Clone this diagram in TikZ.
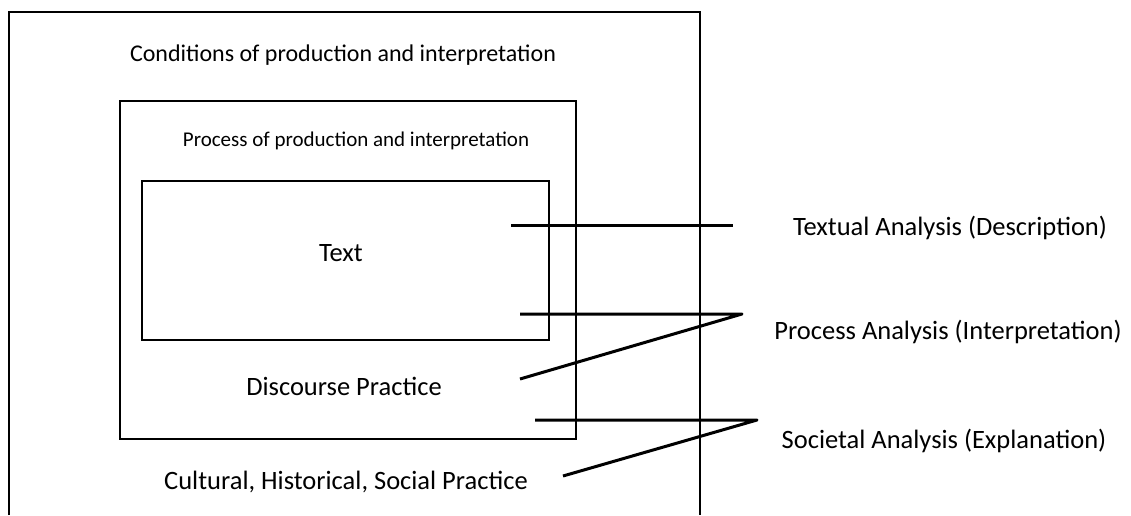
\documentclass[tikz,border=0pt]{standalone}
\usepackage{fontspec}
\setmainfont{Carlito}

\begin{document}
\begin{tikzpicture}[x=1pt, y=-1pt,
    box/.style={draw, line width=1.5pt},
    link/.style={line width=3pt, line join=round},
    lbl/.style={inner sep=0pt, font=\fontsize{24}{28}\selectfont},
    big/.style={inner sep=0pt, font=\fontsize{26.5}{30}\selectfont},
    small/.style={inner sep=0pt, font=\fontsize{21}{25}\selectfont}]
\useasboundingbox (0,0) rectangle (1131,515);

% the three frames, outer one open at the bottom
\draw[box] (9,515) -- (9,12) -- (700,12) -- (700,515);
\draw[box] (120,101) rectangle (576,439);
\draw[box] (142,181) rectangle (549,340);

% texts inside the frames
\node[lbl] (cond) at (343,55) {Conditions of production and interpretation};
\node[small] (proc) at (356,141) {Process of production and interpretation};
\node[big] (text) at (341,253) {Text};
\node[big] (disc) at (344,386) {Discourse Practice};
\node[big] (cult) at (346,482) {Cultural, Historical, Social Practice};

% levels of analysis
\node[big] (desc) at (950,228) {Textual Analysis (Description)};
\node[big] (intp) at (948,332) {Process Analysis (Interpretation)};
\node[big] (expl) at (944,441) {Societal Analysis (Explanation)};

% connectors
\coordinate (t1) at (511,225); \coordinate (t2) at (733,225);
\coordinate (p1) at (520,314); \coordinate (p2) at (742,314);
\coordinate (p3) at (520,379);
\coordinate (s1) at (535,420); \coordinate (s2) at (757,420);
\coordinate (s3) at (563,476);

\draw[link] (t1) -- (t2);
\draw[link] (p1) -- (p2) -- (p3);
\draw[link] (s1) -- (s2) -- (s3);
\end{tikzpicture}
\end{document}
